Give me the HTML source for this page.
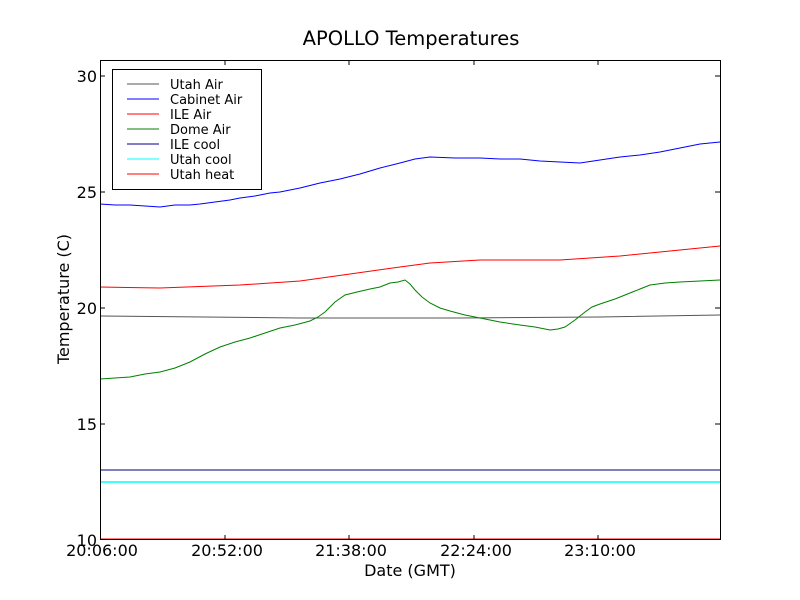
<!DOCTYPE html>
<html><head><style>body{margin:0;background:#fff}svg{display:block;font-family:"DejaVu Sans","Liberation Sans",sans-serif}</style></head><body>
<svg width="800" height="600" xmlns="http://www.w3.org/2000/svg">
<rect width="800" height="600" fill="#fff"/>
<text x="411" y="45" font-size="19.5" text-anchor="middle">APOLLO Temperatures</text>
<g fill="none" stroke-width="1">
<polyline stroke="#000080" points="100,470 720,470"/>
<polyline stroke="#00ffff" stroke-width="1.5" points="100,482 720,482"/>
<polyline stroke="#555" points="100,316 300,318 460,318 600,317 720,315"/>
<polyline stroke="#0000ff" points="100,204 115,205 130,205 145,206 160,207 175,205 190,205 200,204 215,202 230,200 240,198 255,196 270,193 280,192 300,188 320,183 340,179 360,174 380,168 400,163 415,159 430,157 455,158 480,158 500,159 520,159 540,161 560,162 580,163 600,160 620,157 640,155 660,152 680,148 700,144 720,142"/>
<polyline stroke="#ff0000" points="100,287 160,288 240,285 300,281 350,274 400,267 430,263 480,260 560,260 620,256 680,250 720,246"/>
<polyline stroke="#008000" points="100,379 115,378 130,377 145,374 160,372 175,368 190,362 205,354 220,347 235,342 250,338 265,333 280,328 295,325 310,321 318,317 325,312 335,302 345,295 357,292 370,289 380,287 390,283 398,282 405,280 410,284 415,290 422,297 430,303 440,308 450,311 465,315 480,318 500,322 520,325 535,327 550,330 558,329 565,327 575,320 585,312 592,307 600,304 615,299 630,293 640,289 650,285 665,283 680,282 700,281 720,280"/>
<polyline stroke="#ff0000" points="100,539 720,539"/>
</g>
<rect x="100.5" y="60.5" width="620" height="479" fill="none" stroke="#000" stroke-width="1"/>
<g stroke="#000">
<path d="M100 76h5M720 76h-5M100 192h5M720 192h-5M100 308h5M720 308h-5M100 424h5M720 424h-5"/>
<path d="M225 540v-5M225 60v5M349 540v-5M349 60v5M474 540v-5M474 60v5M598 540v-5M598 60v5"/>
</g>
<g font-size="16" text-anchor="end">
<text x="97" y="82">30</text><text x="97" y="198">25</text><text x="97" y="314">20</text><text x="97" y="430">15</text><text x="97" y="546">10</text>
</g>
<g font-size="16" text-anchor="middle">
<text x="102" y="556">20:06:00</text><text x="227" y="556">20:52:00</text><text x="351" y="556">21:38:00</text><text x="476" y="556">22:24:00</text><text x="600" y="556">23:10:00</text>
</g>
<text x="410" y="576" font-size="16" text-anchor="middle">Date (GMT)</text>
<text transform="translate(69,299) rotate(-90)" font-size="16" text-anchor="middle">Temperature (C)</text>
<rect x="112.5" y="69.5" width="149" height="120" fill="#fff" stroke="#000"/>
<g stroke-width="1">
<path d="M127 84h32" stroke="#555"/><path d="M127 99h32" stroke="#00f"/><path d="M127 114h32" stroke="#f00"/><path d="M127 129h32" stroke="#008000"/><path d="M127 144h32" stroke="#000080"/><path d="M127 159h32" stroke="#0ff"/><path d="M127 174h32" stroke="#f00"/>
</g>
<g font-size="13">
<text x="170" y="89">Utah Air</text><text x="170" y="104">Cabinet Air</text><text x="170" y="119">ILE Air</text><text x="170" y="134">Dome Air</text><text x="170" y="149">ILE cool</text><text x="170" y="164">Utah cool</text><text x="170" y="179">Utah heat</text>
</g>
</svg>
</body></html>
